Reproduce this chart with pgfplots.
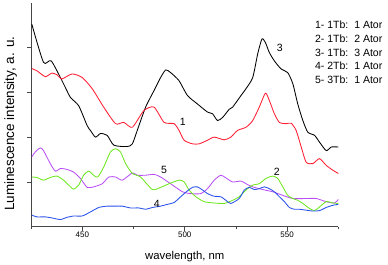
\documentclass[border=0pt]{standalone}
\usepackage{pgfplots}
\pgfplotsset{compat=1.18}
\usepackage{fontspec}
\setmainfont{Liberation Sans}
\definecolor{cred}{RGB}{255,30,50}
\definecolor{cgreen}{RGB}{110,230,30}
\definecolor{cpurple}{RGB}{185,80,245}
\definecolor{cblue}{RGB}{40,80,235}
\definecolor{axgray}{RGB}{70,70,70}
\begin{document}
\begin{tikzpicture}
\begin{axis}[
  name=ax,
  scale only axis,
  width=307pt, height=224pt,
  xmin=425, xmax=575, ymin=0, ymax=5,
  axis lines*=left,
  axis line style={axgray, line width=0.9pt},
  tick align=outside,
  xtick={450,500,550},
  minor xtick={425,475,525,575},
  ytick={1,2,3,4},
  yticklabels={},
  major tick length=4pt,
  minor tick length=2.5pt,
  tick style={axgray, line width=0.8pt},
  /pgf/number format/assume math mode=true,
  xticklabel style={font=\fontsize{8}{9}\selectfont, inner sep=1pt},
  xlabel={wavelength, nm},
  xlabel style={font=\fontsize{11.3}{13}\selectfont, at={(axis description cs:0.5,-0.131)}, anchor=center},
  ylabel={Luminescence intensity, a. u.},
  ylabel style={font=\fontsize{13.5}{15}\selectfont, at={(axis description cs:-0.067,0.46)}, anchor=center},
  clip=false,
  every axis plot/.append style={line width=0.85pt, smooth, tension=0.4},
]
% 3 (black)
\addplot[black] coordinates {
(425.3,4.52) (431.0,3.67) (434.8,3.70) (440.8,3.19) (444.1,2.89) (448.2,2.70)
(452.3,2.26) (453.9,2.15) (456.4,2.00) (458.8,2.08) (462.1,2.04) (465.4,1.82)
(471.9,1.79) (474.4,1.85) (476.8,2.15) (480.9,2.67) (485.0,3.04) (488.2,3.33)
(490.7,3.50) (493.1,3.44) (497.2,3.26) (501.3,2.93) (506.2,2.74) (511.1,2.56)
(513.6,2.52) (516.0,2.37) (518.5,2.44) (521.7,2.62) (523.4,2.67) (527.5,2.93)
(529.9,3.08) (533.2,3.33) (535.6,3.85) (537.7,4.19) (539.4,4.11) (541.3,3.89)
(543.8,3.70) (547.1,3.52) (550.3,3.44) (552.8,3.19) (555.2,2.74) (557.7,2.37)
(560.1,2.11) (563.4,2.04) (565.8,1.89) (569.1,1.70) (571.6,1.78) (575.0,1.78)
};
% 1 (red)
\addplot[cred] coordinates {
(425.3,3.53) (427.8,3.48) (431.9,3.35) (435.1,3.43) (437.6,3.39) (440.0,3.30)
(445.0,3.41) (449.9,3.33) (454.8,3.08) (460.4,2.67) (466.2,2.30) (470.2,2.33)
(474.4,2.22) (480.0,2.59) (485.0,2.67) (489.9,2.33) (494.8,2.30) (497.2,2.15)
(499.7,1.93) (503.8,1.85) (507.0,1.85) (511.1,1.93) (514.4,2.00) (519.3,1.94)
(522.5,2.00) (525.8,2.15) (529.9,2.22) (533.2,2.37) (536.4,2.67) (539.4,2.98)
(541.3,2.82) (543.8,2.52) (546.2,2.33) (549.5,2.30) (552.0,2.31) (554.4,2.15)
(556.9,1.78) (559.3,1.44) (562.6,1.41) (565.8,1.52) (569.1,1.37) (572.4,1.26)
(575.0,1.19)
};
% 5 (purple)
\addplot[cpurple] coordinates {
(425.3,1.56) (427.0,1.67) (429.4,1.76) (431.0,1.70) (434.3,1.41) (436.8,1.24)
(439.2,1.30) (442.5,1.28) (445.7,1.22) (449.0,1.08) (452.3,0.88) (455.5,0.89)
(459.7,0.96) (462.9,1.11) (466.2,1.11) (469.5,1.04) (474.4,1.20) (476.8,1.15)
(480.9,1.15) (485.0,1.17) (488.2,1.11) (493.1,0.96) (498.9,0.78) (502.9,0.74)
(507.8,0.74) (511.1,0.85) (514.4,1.04) (517.6,1.15) (520.1,1.09) (523.4,1.00)
(527.5,1.02) (529.9,0.96) (533.2,0.89) (538.1,0.83) (543.0,0.78) (547.9,0.70)
(552.8,0.63) (559.3,0.63) (564.2,0.63) (569.1,0.56) (573.2,0.53) (575.0,0.61)
};
% 2 (green)
\addplot[cgreen] coordinates {
(425.3,1.11) (427.8,1.10) (431.0,1.04) (434.3,1.10) (437.6,1.13) (440.8,1.04)
(443.3,0.93) (445.7,0.84) (448.2,0.93) (450.6,1.15) (453.1,1.24) (455.5,1.15)
(457.5,1.11) (460.4,1.33) (463.7,1.67) (466.2,1.74) (468.6,1.67) (471.1,1.41)
(474.4,1.19) (478.4,1.11) (484.2,0.83) (488.2,0.88) (492.3,0.96) (497.2,1.04)
(499.7,1.00) (502.1,0.82) (505.4,0.67) (509.5,0.56) (514.4,0.53) (519.3,0.52)
(523.4,0.59) (526.6,0.67) (529.9,0.82) (533.2,0.93) (536.4,0.96) (539.7,1.08)
(543.0,1.13) (545.4,1.08) (547.9,0.89) (550.3,0.70) (552.8,0.63) (555.2,0.59)
(557.7,0.52) (560.9,0.41) (563.4,0.36) (565.8,0.44) (569.1,0.56) (572.4,0.53)
(575.0,0.52)
};
% 4 (blue)
\addplot[cblue] coordinates {
(425.3,0.26) (427.8,0.22) (431.9,0.22) (435.9,0.19) (439.2,0.16) (442.5,0.21)
(445.7,0.24) (449.9,0.24) (453.9,0.33) (458.0,0.43) (462.1,0.46) (466.2,0.46)
(469.5,0.46) (473.5,0.42) (477.6,0.42) (480.9,0.39) (484.2,0.43) (488.2,0.46)
(491.5,0.50) (494.8,0.54) (498.0,0.67) (501.3,0.80) (503.8,0.88) (506.2,0.89)
(508.7,0.82) (511.1,0.74) (514.4,0.68) (517.6,0.67) (520.1,0.59) (522.5,0.52)
(526.6,0.63) (529.1,0.82) (531.5,0.88) (534.0,0.83) (536.4,0.85) (538.9,0.89)
(541.3,0.85) (543.8,0.78) (546.2,0.67) (548.7,0.56) (551.1,0.43) (553.6,0.39)
(556.0,0.39) (559.3,0.37) (562.6,0.35) (565.8,0.36) (569.1,0.43) (572.4,0.48)
(575.0,0.50)
};
% curve numbers
\begin{scope}[every node/.style={font=\fontsize{10.5}{12}\selectfont, inner sep=0pt}]
\node at (axis cs:499.1,2.33) {1};
\node at (axis cs:546.4,4.00) {3};
\node at (axis cs:489.9,1.27) {5};
\node at (axis cs:486.4,0.52) {4};
\node at (axis cs:545.0,1.23) {2};
\end{scope}
% legend text
\begin{scope}[every node/.style={font=\fontsize{10.5}{12}\selectfont, inner sep=0pt, anchor=base west}]
\node at (rel axis cs:0.924,0.884) {1- 1Tb:\ \ 1 Ator};
\node at (rel axis cs:0.924,0.821) {2- 1Tb:\ \ 2 Ator};
\node at (rel axis cs:0.924,0.760) {3- 1Tb:\ \ 3 Ator};
\node at (rel axis cs:0.924,0.700) {4- 2Tb:\ \ 1 Ator};
\node at (rel axis cs:0.924,0.638) {5- 3Tb:\ \ 1 Ator};
\end{scope}
\end{axis}
\path ([xshift=-31.2pt,yshift=-36.3pt]ax.south west) rectangle ([xshift=49.7pt,yshift=2.7pt]ax.north east);
\end{tikzpicture}
\end{document}
